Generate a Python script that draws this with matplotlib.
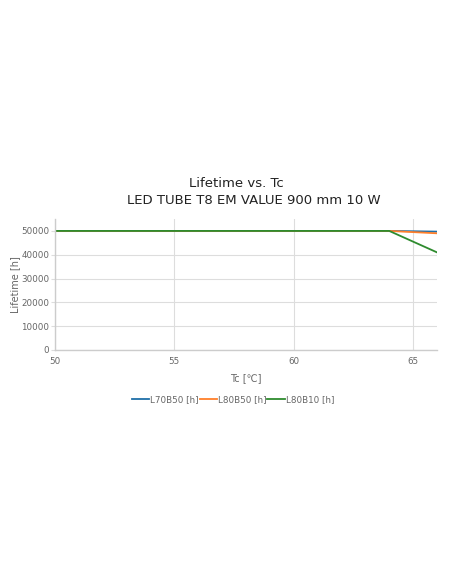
import matplotlib
matplotlib.use("Agg")
import matplotlib.pyplot as plt

# Data
tc = [50, 64, 66]
l70b50 = [50000, 50000, 49700]
l80b50 = [50000, 50000, 49000]
l80b10 = [50000, 50000, 41000]
series_labels = ['L70B50 [h]', 'L80B50 [h]', 'L80B10 [h]']
series_colors = ['#1f6fa8', '#ff7f2a', '#2e8b2e']
x_ticks = [50, 55, 60, 65]
y_ticks = [0, 10000, 20000, 30000, 40000, 50000]

TEXT_GREY = '#666666'
GRID_GREY = '#dddddd'

fig = plt.figure(figsize=(4.52, 5.84), dpi=100)
ax = fig.add_axes([0.1217, 0.4007, 0.845, 0.2243])

for vals, lab, col in zip([l70b50, l80b50, l80b10], series_labels, series_colors):
    ax.plot(tc, vals, color=col, lw=1.3, label=lab)

ax.set_xlim(50, 66)
ax.set_ylim(0, 55000)
ax.set_xticks(x_ticks)
ax.set_yticks(y_ticks)
ax.grid(True, color=GRID_GREY, lw=0.8)
ax.set_axisbelow(True)
ax.tick_params(axis='y', length=3, color=GRID_GREY, labelsize=6.3, labelcolor=TEXT_GREY, pad=1)
ax.tick_params(axis='x', length=0, labelsize=6.3, labelcolor=TEXT_GREY, pad=5)
for side in ['top', 'right']:
    ax.spines[side].set_visible(False)
for side in ['left', 'bottom']:
    ax.spines[side].set_color('#cccccc')
    ax.spines[side].set_linewidth(1.0)

ax.set_xlabel('Tc [℃]', fontsize=7, color=TEXT_GREY, labelpad=5)
ax.set_ylabel('Lifetime [h]', fontsize=7, color=TEXT_GREY, labelpad=1)

fig.text(236 / 452, 1 - 184 / 584, 'Lifetime vs. Tc', ha='center', va='center',
         fontsize=9.5, color='#222222')
fig.text(254 / 452, 1 - 200 / 584, 'LED TUBE T8 EM VALUE 900 mm 10 W', ha='center',
         va='center', fontsize=9.5, color='#222222')

fig.legend(loc='center', bbox_to_anchor=(233 / 452, 1 - 400 / 584), ncol=3, frameon=False,
           fontsize=6.3, labelcolor=TEXT_GREY, handlelength=2.0, handletextpad=0.1,
           columnspacing=0.1)

fig.savefig('out.png', dpi=100)
